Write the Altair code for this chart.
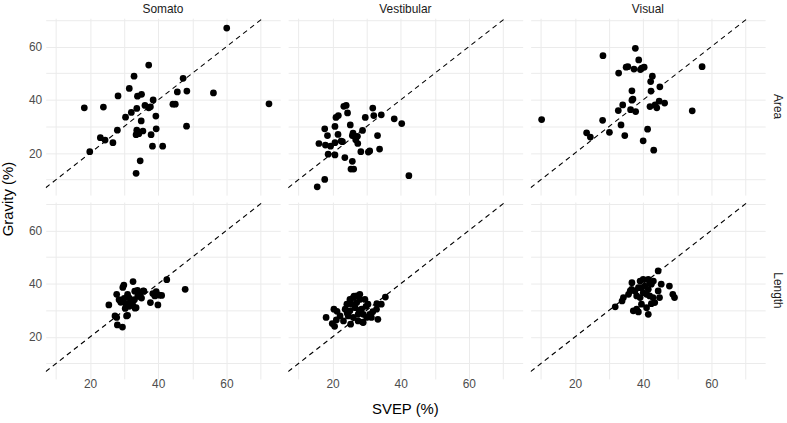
import altair as alt
import pandas as pd

# SVEP vs gravity estimates, one pair of lists per modality x measure
somato_area_svep = [60.1, 72.5, 37.2, 32.9, 47.3, 31.5, 28.2, 33.9, 35.1, 45.6, 48.4, 56.2, 38.5, 18.3,
                    23.9, 36.1, 37.2, 37.7, 33.7, 32.1, 30.4, 39.3, 44.3, 45.0, 35.0, 28.0, 39.4, 48.3,
                    33.7, 35.5, 34.3, 33.5, 37.9, 23.0, 24.4, 26.7, 38.3, 41.3, 19.9, 34.7, 33.5]
somato_area_grav = [67.0, 38.5, 53.1, 48.9, 48.1, 44.3, 41.5, 41.4, 42.1, 43.0, 43.3, 42.6, 40.0, 37.0,
                    37.3, 37.9, 37.0, 37.4, 36.8, 35.3, 33.5, 33.9, 38.4, 38.4, 32.1, 28.6, 29.1, 30.1,
                    28.6, 28.3, 27.3, 26.9, 26.9, 25.8, 24.9, 23.9, 22.6, 22.6, 20.5, 17.1, 12.4]

vest_area_svep = [15.5, 17.7, 42.4, 25.4, 26.2, 25.8, 23.6, 18.7, 20.7, 28.3, 30.5, 30.9, 33.8, 16.0,
                  17.9, 19.4, 20.7, 22.9, 17.7, 18.5, 20.7, 21.6, 25.2, 25.8, 26.5, 27.3, 26.8, 27.4,
                  28.8, 33.2, 29.6, 31.8, 32.1, 34.3, 38.1, 40.3, 23.3, 24.0, 24.4, 21.0, 21.7, 26.0, 22.5]
vest_area_grav = [7.3, 10.1, 11.5, 14.0, 14.0, 16.9, 18.3, 19.6, 19.3, 20.5, 20.4, 20.8, 21.5, 23.6,
                  23.0, 22.6, 23.9, 24.3, 29.1, 26.6, 30.0, 27.0, 30.6, 26.6, 26.3, 26.3, 25.0, 23.6,
                  28.5, 26.6, 33.4, 36.9, 34.1, 34.4, 32.9, 31.1, 37.6, 37.9, 35.1, 33.4, 34.1, 27.5, 24.5]

visual_area_svep = [10.2, 28.2, 37.7, 38.7, 32.8, 35.0, 35.5, 37.3, 39.2, 39.6, 40.3, 57.3, 42.7, 42.2,
                    44.9, 36.7, 42.3, 36.7, 37.0, 34.0, 32.7, 36.3, 37.8, 42.0, 43.5, 44.7, 46.3, 44.0,
                    54.4, 28.1, 33.5, 41.3, 23.4, 24.5, 30.1, 34.6, 40.0, 43.1]
visual_area_grav = [32.6, 56.6, 59.4, 55.0, 50.1, 52.3, 52.5, 51.6, 51.4, 51.9, 52.3, 52.5, 48.9, 46.9,
                    44.9, 43.4, 43.3, 39.9, 40.3, 38.1, 36.0, 36.3, 35.6, 37.5, 38.1, 39.5, 38.8, 37.0,
                    35.9, 32.3, 30.6, 29.0, 27.6, 26.0, 27.8, 26.6, 24.6, 21.1]

somato_len_svep = [42.5, 47.9, 32.6, 29.9, 29.6, 33.9, 33.1, 35.8, 35.6, 27.8, 34.7, 38.4, 39.4, 40.3,
                   41.0, 39.0, 37.7, 39.9, 25.5, 28.5, 29.0, 30.0, 30.5, 31.5, 32.0, 32.5, 33.0, 33.5,
                   31.5, 35.1, 33.2, 30.3, 31.0, 30.7, 27.3, 27.8, 28.0, 29.5, 34.0, 31.0]
somato_len_grav = [41.5, 37.9, 40.8, 39.5, 38.6, 37.5, 37.2, 37.2, 37.3, 36.0, 36.0, 36.3, 37.0, 35.7,
                   35.6, 35.4, 32.9, 32.0, 32.0, 34.0, 33.0, 34.5, 32.5, 34.6, 33.2, 32.0, 34.0, 31.0,
                   31.5, 34.6, 30.8, 30.7, 28.1, 27.9, 27.9, 27.3, 24.5, 23.7, 35.5, 36.0]

vest_len_svep = [18.1, 19.9, 20.6, 21.1, 20.4, 21.3, 22.2, 23.2, 23.7, 24.2, 25.1, 26.1, 27.1, 25.6,
                 27.1, 28.0, 25.1, 24.6, 26.1, 27.5, 28.5, 29.0, 30.0, 31.4, 33.3, 30.9, 32.9, 34.3,
                 30.4, 27.5, 29.0, 29.5, 28.0, 35.5, 25.3, 28.8, 33.0, 26.6, 27.8, 29.8, 24.3, 26.3, 31.8]
vest_len_grav = [27.3, 25.0, 24.0, 26.4, 30.4, 29.6, 27.9, 26.0, 30.4, 32.3, 34.1, 34.8, 35.4, 32.3,
                 32.9, 34.1, 29.8, 27.9, 27.3, 28.5, 30.4, 28.5, 27.3, 27.3, 26.6, 28.5, 30.4, 32.3,
                 32.3, 26.0, 25.4, 34.1, 36.0, 35.0, 24.8, 25.6, 32.5, 31.0, 30.0, 31.5, 28.9, 35.3, 29.5]

visual_len_svep = [44.4, 31.8, 34.2, 33.8, 36.6, 36.2, 35.7, 39.1, 40.0, 41.5, 41.9, 44.4, 44.8, 45.3,
                   47.7, 48.7, 49.2, 38.6, 39.5, 40.5, 41.5, 42.4, 40.0, 41.0, 41.9, 42.9, 39.1, 38.1,
                   37.6, 43.4, 42.4, 37.1, 38.1, 38.6, 41.5, 41.0, 39.5, 36.7, 43.0]
visual_len_grav = [44.8, 31.3, 34.8, 33.5, 37.9, 37.3, 36.0, 41.0, 41.6, 41.6, 40.4, 37.3, 34.8, 39.8,
                   39.1, 36.0, 34.8, 38.5, 38.5, 39.1, 37.9, 39.8, 36.6, 36.0, 35.4, 34.8, 34.8, 35.4,
                   37.3, 32.9, 32.5, 29.8, 30.4, 29.4, 28.5, 31.0, 32.3, 40.4, 41.0]

modalities = ["Somato", "Vestibular", "Visual"]
measures = ["Area", "Length"]
x_limits = [6.97, 75.8]
y_limits = [4.2, 70.7]
x_ticks = [10, 20, 30, 40, 50, 60, 70]
y_ticks = [10, 20, 30, 40, 50, 60, 70]

series = {
    ("Somato", "Area"): (somato_area_svep, somato_area_grav),
    ("Vestibular", "Area"): (vest_area_svep, vest_area_grav),
    ("Visual", "Area"): (visual_area_svep, visual_area_grav),
    ("Somato", "Length"): (somato_len_svep, somato_len_grav),
    ("Vestibular", "Length"): (vest_len_svep, vest_len_grav),
    ("Visual", "Length"): (visual_len_svep, visual_len_grav),
}

rows = []
for (mod, meas), (xs, ys) in series.items():
    for xv, yv in zip(xs, ys):
        rows.append({"modality": mod, "measure": meas, "svep": xv, "gravity": yv, "kind": "obs"})
    # identity line endpoints, spanning the shared panel range
    lo = max(x_limits[0], y_limits[0])
    hi = min(x_limits[1], y_limits[1])
    for v in (lo, hi):
        rows.append({"modality": mod, "measure": meas, "svep": v, "gravity": v, "kind": "ref"})
df = pd.DataFrame(rows)

label_expr = "datum.value % 20 == 0 ? datum.label : ''"
axis_style = dict(domain=False, ticks=False, tickSize=0, grid=True, gridColor="#EBEBEB",
                  gridWidth=1, labelColor="#4D4D4D", labelFontSize=12,
                  labelFont="Liberation Sans", labelExpr=label_expr)
x_enc = alt.X("svep:Q", title=None,
              scale=alt.Scale(domain=x_limits, nice=False, zero=False),
              axis=alt.Axis(values=x_ticks, labelPadding=0, **axis_style))
y_enc = alt.Y("gravity:Q", title=None,
              scale=alt.Scale(domain=y_limits, nice=False, zero=False),
              axis=alt.Axis(values=y_ticks, labelPadding=4, **axis_style))

ref = alt.Chart().mark_line(color="black", strokeDash=[5, 4], strokeWidth=1.1, clip=True).encode(
    x=x_enc, y=y_enc
).transform_filter(alt.datum.kind == "ref")

pts = alt.Chart().mark_circle(color="black", opacity=1, size=46).encode(
    x=x_enc, y=y_enc
).transform_filter(alt.datum.kind == "obs")

title_style = dict(titleFont="Liberation Sans", titleFontSize=15, titleFontWeight="normal",
                   titleColor="#000000")

chart = alt.layer(ref, pts, data=df).properties(width=236, height=178).facet(
    column=alt.Column("modality:N", sort=modalities, title="SVEP (%)",
                      header=alt.Header(labelFontSize=12, labelColor="#1A1A1A",
                                        labelFont="Liberation Sans", labelPadding=2,
                                        labelOrient="top", titleOrient="bottom",
                                        titlePadding=2, **title_style)),
    row=alt.Row("measure:N", sort=measures, title="Gravity (%)",
                header=alt.Header(labelFontSize=12, labelColor="#1A1A1A", labelAngle=90,
                                  labelOrient="right", labelFont="Liberation Sans",
                                  labelPadding=6, titleOrient="left", titlePadding=2,
                                  **title_style)),
    spacing=alt.RowColnumber(row=7, column=8),
).configure_view(stroke="transparent", strokeWidth=0, strokeOpacity=0).configure(
    padding={"left": 0, "top": 2, "right": 3, "bottom": 3},
    style={"cell": {"stroke": "transparent", "strokeWidth": 0}},
)

chart.save("out.html", embed_options={"renderer": "svg", "actions": False})
